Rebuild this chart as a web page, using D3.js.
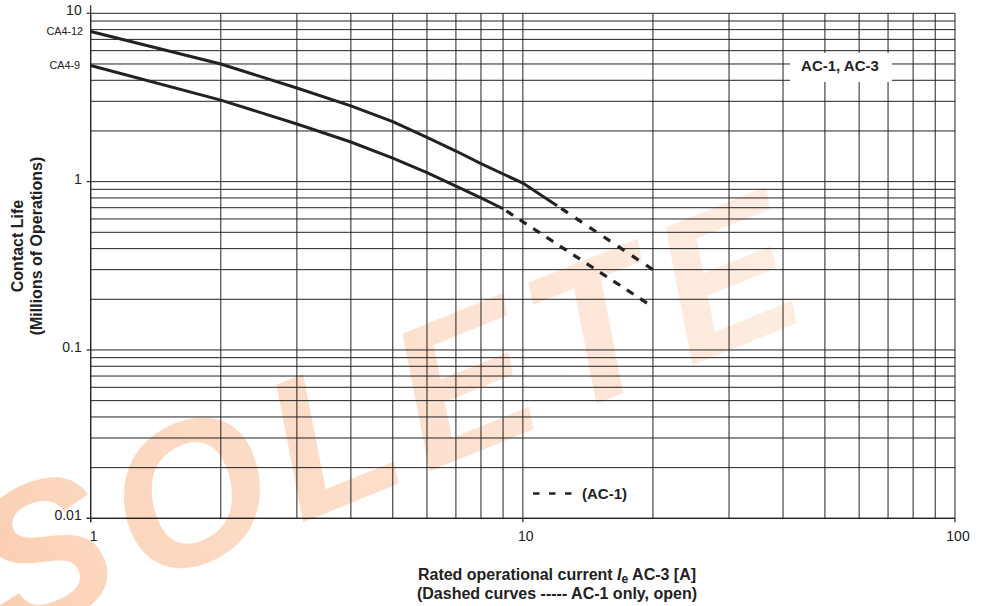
<!DOCTYPE html>
<html>
<head>
<meta charset="utf-8">
<script src="https://cdn.jsdelivr.net/npm/d3@7/dist/d3.min.js"></script>
<style>
  html, body { margin: 0; padding: 0; background: #fff; }
  svg { display: block; font-family: "Liberation Sans", Arial, Helvetica, sans-serif; }
</style>
</head>
<body>
<svg id="chart" width="986" height="606"></svg>
<script>
// ---------------- data ----------------
const xTickValues = [1, 10, 100];
const yTickValues = [0.01, 0.1, 1, 10];
const yTickLabels = ["0.01", "0.1", "1", "10"];

// CA4-12 (AC-3 solid), then AC-1 dashed continuation
const ca412Current = [1, 2, 3, 4, 5, 6, 7, 8, 9, 10, 12];
const ca412Life    = [7.8, 5.0, 3.6, 2.82, 2.27, 1.83, 1.52, 1.28, 1.11, 0.98, 0.72];
const ca412DashCurrent = [12, 20];
const ca412DashLife    = [0.72, 0.30];

// CA4-9
const ca49Current = [1, 2, 3, 4, 5, 6, 7, 8, 9];
const ca49Life    = [4.9, 3.05, 2.2, 1.72, 1.38, 1.13, 0.94, 0.80, 0.69];
const ca49DashCurrent = [9, 20];
const ca49DashLife    = [0.69, 0.18];

const seriesLabels = ["CA4-12", "CA4-9"];

// ---------------- scales ----------------
const svg = d3.select("#chart");
const x = d3.scaleLog().domain([1, 100]).range([90.7, 955]);
const y = d3.scaleLog().domain([0.01, 10]).range([518.3, 13.3]);

// ---------------- watermark ----------------
const defs = svg.append("defs");
const grad = defs.append("linearGradient").attr("id", "wm")
  .attr("x1", "0%").attr("y1", "0%").attr("x2", "100%").attr("y2", "0%");
grad.append("stop").attr("offset", "0%").attr("stop-color", "#f7b286");
grad.append("stop").attr("offset", "35%").attr("stop-color", "#fcd5bc");
grad.append("stop").attr("offset", "100%").attr("stop-color", "#feede3");

svg.append("text")
  .attr("transform", "translate(-298,765) rotate(-22)")
  .attr("font-size", 200)
  .attr("font-weight", "bold")
  .attr("font-style", "italic")
  .attr("letter-spacing", 14)
  .attr("fill", "url(#wm)")
  .text("OBSOLETE");

// ---------------- grid ----------------
const xGrid = [];
for (let k = 0; k < 2; k++) for (let i = 1; i <= 9; i++) xGrid.push(i * Math.pow(10, k));
xGrid.push(100);
const yGrid = [];
for (let k = -2; k < 1; k++) for (let i = 1; i <= 9; i++) yGrid.push(+(i * Math.pow(10, k)).toPrecision(3));
yGrid.push(10);

const grid = svg.append("g").attr("stroke", "#222").attr("stroke-width", 1);
grid.selectAll("line.h").data(yGrid).join("line").attr("class", "h")
  .attr("x1", x(1)).attr("x2", x(100))
  .attr("y1", d => y(d)).attr("y2", d => y(d));
grid.selectAll("line.v").data(xGrid).join("line").attr("class", "v")
  .attr("y1", y(10)).attr("y2", y(0.01))
  .attr("x1", d => x(d)).attr("x2", d => x(d));

// ---------------- axes ----------------
const axG = svg.append("g").attr("stroke", "#222").attr("stroke-width", 1.2);
axG.append("line").attr("x1", x(1)).attr("x2", x(1)).attr("y1", y(10) - 8).attr("y2", y(0.01) + 4);
axG.append("line").attr("x1", x(1) - 4).attr("x2", x(100)).attr("y1", y(0.01)).attr("y2", y(0.01));
axG.selectAll("line.yt").data(yTickValues).join("line").attr("class", "yt")
  .attr("x1", x(1) - 4).attr("x2", x(1)).attr("y1", d => y(d)).attr("y2", d => y(d));
axG.selectAll("line.xt").data(xTickValues).join("line").attr("class", "xt")
  .attr("x1", d => x(d)).attr("x2", d => x(d)).attr("y1", y(0.01)).attr("y2", y(0.01) + 4);

svg.append("g").selectAll("text").data(yTickValues).join("text")
  .attr("x", x(1) - 9).attr("y", d => y(d) + 2)
  .attr("text-anchor", "end").attr("font-size", 14).attr("fill", "#222")
  .text((d, i) => yTickLabels[i]);

svg.append("g").selectAll("text").data(xTickValues).join("text")
  .attr("x", d => x(d) + 3).attr("y", y(0.01) + 23)
  .attr("text-anchor", "middle").attr("font-size", 14).attr("fill", "#222")
  .text(d => d);

// ---------------- curves ----------------
const line = d3.line().x(d => x(d[0])).y(d => y(d[1]));
const zip = (a, b) => a.map((v, i) => [v, b[i]]);
const curves = svg.append("g").attr("fill", "none").attr("stroke", "#222");
curves.append("path").datum(zip(ca412Current, ca412Life)).attr("d", line).attr("stroke-width", 3);
curves.append("path").datum(zip(ca49Current, ca49Life)).attr("d", line).attr("stroke-width", 3);
curves.append("path").datum(zip(ca412DashCurrent, ca412DashLife)).attr("d", line)
  .attr("stroke-width", 3.2).attr("stroke-dasharray", "0 5 8 4");
curves.append("path").datum(zip(ca49DashCurrent, ca49DashLife)).attr("d", line)
  .attr("stroke-width", 3.2).attr("stroke-dasharray", "0 4 8 4");

// series labels at the left
svg.append("text").attr("x", 83).attr("y", y(ca412Life[0]) + 3.5)
  .attr("text-anchor", "end").attr("font-size", 10.8).attr("fill", "#222").text(seriesLabels[0]);
svg.append("text").attr("x", 80).attr("y", y(ca49Life[0]) + 3.5)
  .attr("text-anchor", "end").attr("font-size", 10.8).attr("fill", "#222").text(seriesLabels[1]);

// ---------------- "AC-1, AC-3" box ----------------
svg.append("rect").attr("x", 790).attr("y", 53).attr("width", 102).attr("height", 29).attr("fill", "#fff");
svg.append("text").attr("x", 840).attr("y", 70.5).attr("text-anchor", "middle")
  .attr("font-size", 15).attr("font-weight", "bold").attr("fill", "#222").text("AC-1, AC-3");

// ---------------- legend ----------------
svg.append("line").attr("x1", 533).attr("x2", 572).attr("y1", 493.5).attr("y2", 493.5)
  .attr("stroke", "#222").attr("stroke-width", 2.4).attr("stroke-dasharray", "6.5 9.5");
svg.append("text").attr("x", 582).attr("y", 499).attr("font-size", 15).attr("font-weight", "bold")
  .attr("fill", "#222").text("(AC-1)");

// ---------------- axis titles ----------------
const xt = svg.append("text").attr("x", 557).attr("y", 580).attr("text-anchor", "middle")
  .attr("font-size", 16).attr("font-weight", "bold").attr("fill", "#222");
xt.append("tspan").text("Rated operational current ");
xt.append("tspan").attr("font-style", "italic").text("I");
xt.append("tspan").attr("font-size", 12).attr("dy", 3).text("e");
xt.append("tspan").attr("dy", -3).text(" AC-3 [A]");
svg.append("text").attr("x", 557).attr("y", 599).attr("text-anchor", "middle")
  .attr("font-size", 16).attr("font-weight", "bold").attr("fill", "#222")
  .text("(Dashed curves ----- AC-1 only, open)");

const yt = svg.append("g").attr("transform", "translate(0,246) rotate(-90)");
yt.append("text").attr("x", 0).attr("y", 23).attr("text-anchor", "middle")
  .attr("font-size", 16).attr("font-weight", "bold").attr("fill", "#222").text("Contact Life");
yt.append("text").attr("x", 0).attr("y", 42).attr("text-anchor", "middle")
  .attr("font-size", 16).attr("font-weight", "bold").attr("fill", "#222").text("(Millions of Operations)");
</script>
</body>
</html>
